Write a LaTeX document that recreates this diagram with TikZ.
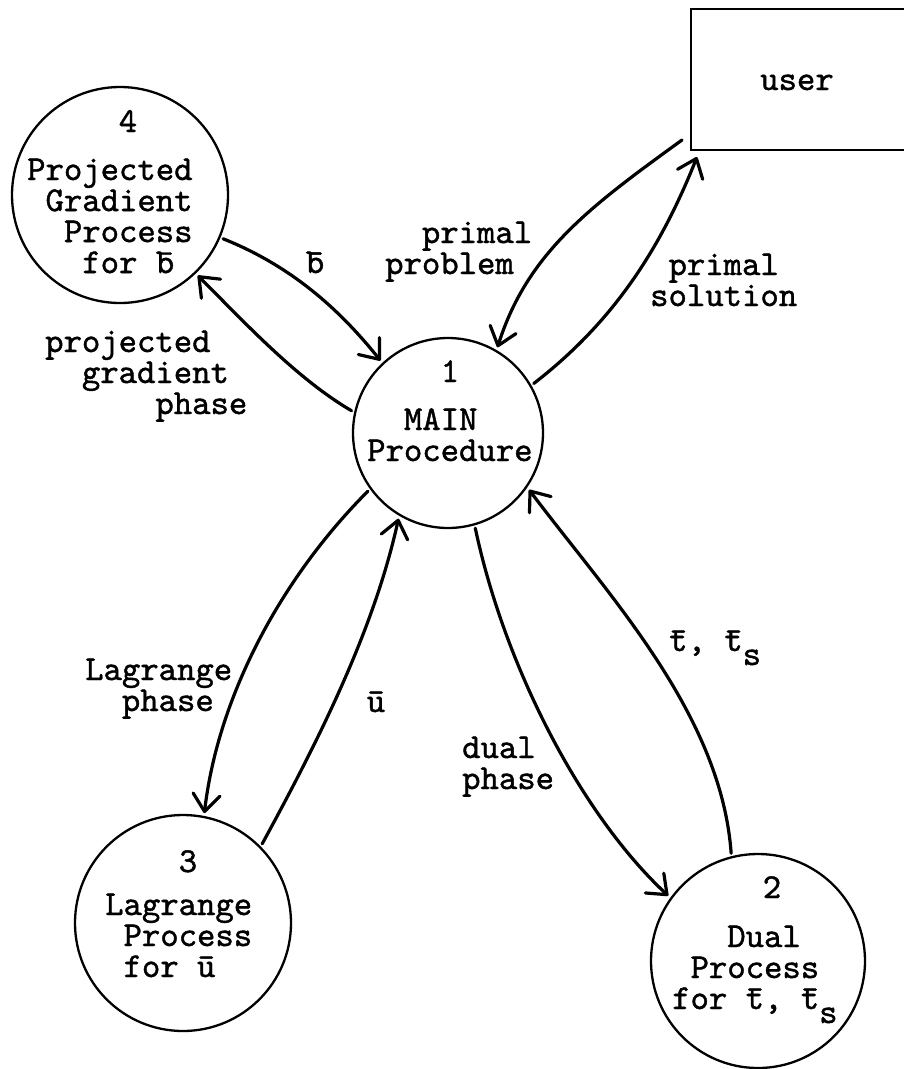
\documentclass[tikz,border=0pt]{standalone}
\usepackage{fontspec}
\usetikzlibrary{arrows.meta}
% typewriter face with slightly heavier strokes
\newfontfamily\typew{lmmono10-regular.otf}[FakeBold=1.2]
% barred letter that does not enlarge the line
\newcommand\ov[1]{\smash{\=#1}}
% indent by a number of typewriter character cells
\newcommand\idt[1]{\hspace*{#1\fontcharwd\font`x}}
% lowered subscript letter, typewriter style
\newcommand\lowr[1]{\raisebox{-14pt}{#1}}
\begin{document}
\begin{tikzpicture}[x=1pt,y=-1pt,
  proc/.style={circle, draw, line width=2.3pt, inner sep=0pt, outer sep=4pt},
  txt/.style={inner sep=0pt, font=\fontsize{35}{31}\typew\selectfont},
  flow/.style={line width=3.2pt, line cap=round,
    -{Straight Barb[length=17pt,width=27pt,round]}},
]
\useasboundingbox (0,0) rectangle (903,1069);

% processes and the external entity
\node[proc, minimum size=216pt] (n4) at (120,195) {};
\node[proc, minimum size=190pt] (main) at (448,433) {};
\node[proc, minimum size=216pt] (n3) at (183,923) {};
\node[proc, minimum size=214pt] (n2) at (758,961) {};
\node[draw, line width=2pt, anchor=north west, minimum width=225pt,
      minimum height=141pt, inner sep=0pt, outer sep=0pt] (user) at (691,9) {};

% entity and process texts
\node[txt, anchor=base] (user-t) at (797,90) {user};

\node[txt, anchor=base] (n4-num) at (128,132) {4};
\node[txt, anchor=base west] (n4-t) at (27,180)
  {\begin{tabular}[t]{@{}l@{}}Projected\\\idt1Gradient\\\idt2Process\\\idt3for \ov b\end{tabular}};

\node[txt, anchor=base] (main-num) at (450,382) {1};
\node[txt, anchor=base west] (main-t) at (367,430)
  {\begin{tabular}[t]{@{}l@{}}\idt2MAIN\\Procedure\end{tabular}};

\node[txt, anchor=base] (n3-num) at (188,872) {3};
\node[txt, anchor=base west] (n3-t) at (105,915)
  {\begin{tabular}[t]{@{}l@{}}Lagrange\\\idt1Process\\\idt1for \ov u\end{tabular}};

\node[txt, anchor=base] (n2-num) at (772,898) {2};
\node[txt, anchor=base west] (n2-t) at (672,947)
  {\begin{tabular}[t]{@{}l@{}}\idt3Dual\\\idt1Process\\for \ov t, \ov t\lowr{s}\end{tabular}};

% free ends at the user box
\coordinate (pp-start) at ([shift={(-9,-10)}]user.south west);
\coordinate (ps-end) at ([shift={(6,7)}]user.south west);

% data flows
\draw[flow] (n4.-23) .. controls +(65,26) and +(-44,-55) .. (main.133);
\draw[flow] (main.167) .. controls +(-55,-32) and +(45,45) .. (n4.-46);
\draw[flow] (pp-start) .. controls +(-91,66) and +(30,-95) .. (main.60);
\draw[flow] (main.30) .. controls +(79,-61) and +(-37,93) .. (ps-end);
\draw[flow] (main.216) .. controls +(-85,85) and +(14,-119) .. (n3.79);
\draw[flow] (n3.45) .. controls +(55,-101) and +(-25,113) .. (main.240);
\draw[flow] (main.-74) .. controls +(29,137) and +(-88,-82) .. (n2.144);
\draw[flow] (n2.104) .. controls +(-10,-140) and +(78,104) .. (main.-35);

% flow labels
\node[txt, anchor=base] (l-b) at (315,273) {\ov b};
\node[txt, anchor=base west] (l-pp) at (385,243)
  {\begin{tabular}[t]{@{}l@{}}\idt2primal\\problem\end{tabular}};
\node[txt, anchor=base west] (l-ps) at (650,275)
  {\begin{tabular}[t]{@{}l@{}}\idt1primal\\solution\end{tabular}};
\node[txt, anchor=base west] (l-pg) at (45,352)
  {\begin{tabular}[t]{@{}l@{}}projected\\\idt2gradient\\\idt6phase\end{tabular}};
\node[txt, anchor=base west] (l-lp) at (85,680)
  {\begin{tabular}[t]{@{}l@{}}Lagrange\\\idt2phase\end{tabular}};
\node[txt, anchor=base] (l-u) at (376,712) {\ov u};
\node[txt, anchor=base west] (l-dp) at (462,758)
  {\begin{tabular}[t]{@{}l@{}}dual\\phase\end{tabular}};
\node[txt, anchor=base west] (l-t) at (669,651) {\ov t, \ov t\lowr{s}};
\end{tikzpicture}
\end{document}
